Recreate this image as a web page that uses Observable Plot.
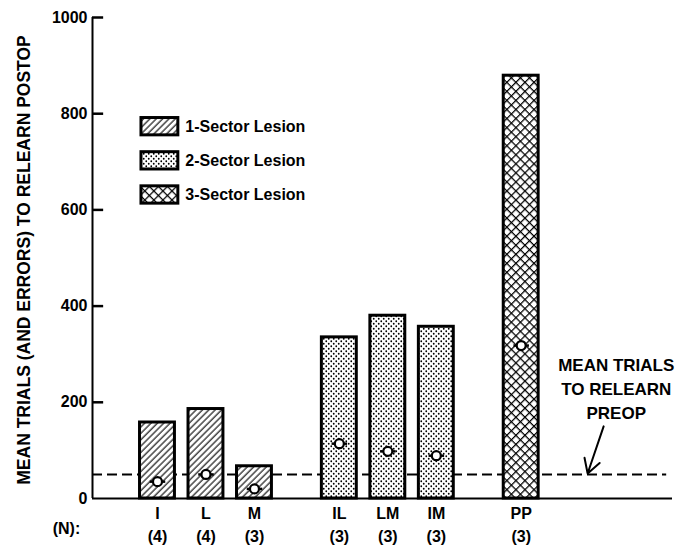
<!DOCTYPE html>
<html>
<head>
<meta charset="utf-8">
<script src="https://cdn.jsdelivr.net/npm/d3@7"></script>
<script src="https://cdn.jsdelivr.net/npm/@observablehq/plot@0.6"></script>
<style>
  html, body { margin: 0; padding: 0; background: #fff; }
  svg text { font-weight: bold; }
</style>
</head>
<body>
<div id="chart"></div>
<script>
// ---- data ----
const groups = ["I", "L", "M", "IL", "LM", "IM", "PP"];
const sectors = [1, 1, 1, 2, 2, 2, 3];
const trials = [158, 186, 67, 335, 380, 357, 879];
const errors = [35, 50, 20, 114, 98, 89, 318];
const counts = [4, 4, 3, 3, 3, 3, 3];
const preopMean = 50;
const yTicks = [0, 200, 400, 600, 800, 1000];
const legendLabels = ["1-Sector Lesion", "2-Sector Lesion", "3-Sector Lesion"];
const yLabel = "MEAN TRIALS (AND ERRORS) TO RELEARN POSTOP";
const noteLabel = "MEAN TRIALS\nTO RELEARN\nPREOP";

// slot position: one step per bar, extra gap between lesion-size groups
const groupGap = 0.75;
const data = groups.map((g, i) => ({
  group: g, sector: sectors[i], trials: trials[i], errors: errors[i], n: counts[i],
  pos: i + (sectors[i] - 1) * groupGap
}));
const half = 0.36;
const xMin = -1.34, xMax = 10.62;
const FS = 16;

const legend = legendLabels.map((label, i) => ({label, sector: i + 1, y: 773 - i * 71}));
const tickMarks = yTicks.filter(t => t > 0);

const chart = Plot.plot({
  width: 676,
  height: 547,
  marginLeft: 92,
  marginRight: 4,
  marginTop: 17,
  marginBottom: 49,
  style: {fontFamily: "'Liberation Sans', Arial, sans-serif", fontSize: FS + "px", background: "#fff", color: "#000"},
  x: {type: "linear", domain: [xMin, xMax], axis: null},
  y: {domain: [0, 1000], axis: null},
  marks: [
    // preop dashed line
    Plot.ruleY([preopMean], {x1: xMin, x2: 10.5, stroke: "black", strokeWidth: 2, strokeDasharray: "10,5"}),
    // bars
    Plot.rect(data, {
      x1: d => d.pos - half, x2: d => d.pos + half, y1: 0, y2: "trials",
      fill: d => `url(#pat${d.sector})`, stroke: "black", strokeWidth: 3
    }),
    // error markers
    Plot.link(data, {x1: d => d.pos - 0.16, x2: d => d.pos + 0.16, y1: "errors", y2: "errors", stroke: "black", strokeWidth: 2.5}),
    Plot.dot(data, {x: "pos", y: "errors", r: 4.5, fill: "white", stroke: "black", strokeWidth: 2.2}),
    // axes lines
    Plot.ruleY([0], {x1: xMin, x2: xMax, stroke: "black", strokeWidth: 2}),
    Plot.ruleX([xMin], {y1: 0, y2: 1000, stroke: "black", strokeWidth: 2}),
    // y tick marks, pointing inward
    Plot.ruleY(tickMarks, {y: d => d, x1: xMin, x2: xMin + 0.23, stroke: "black", strokeWidth: 2.5}),
    Plot.axisY(yTicks, {tickSize: 0, tickPadding: 5, label: null,
      tickFormat: d => String(d), fontSize: FS, fontWeight: "bold"}),
    Plot.axisX(data.map(d => d.pos), {
      tickSize: 0, tickPadding: 5, label: null, fontSize: FS, fontWeight: "bold", lineHeight: 1.4,
      tickFormat: p => { const d = data.find(e => e.pos === p); return `${d.group}\n(${d.n})`; }
    }),
    Plot.text(["(N):"], {frameAnchor: "bottom-left", textAnchor: "middle", dx: -26, dy: 35, fontSize: FS, fontWeight: "bold"}),
    Plot.text([yLabel], {frameAnchor: "left", textAnchor: "middle", rotate: -90, dx: -68, dy: 2, fontSize: 17.5, fontWeight: "bold"}),
    // legend
    Plot.rect(legend, {x1: -0.33, x2: 0.43, y1: d => d.y - 18, y2: d => d.y + 18,
      fill: d => `url(#pat${d.sector})`, stroke: "black", strokeWidth: 3}),
    Plot.text(legend, {x: 0.43, y: "y", text: "label", dx: 7, textAnchor: "start", fontSize: FS, fontWeight: "bold"}),
    // annotation
    Plot.text([noteLabel], {x: 9.46, y: 231, lineHeight: 1.42, textAnchor: "middle", fontSize: 17, fontWeight: "bold"}),
    Plot.arrow([0], {x1: 9.2, y1: 150, x2: 8.87, y2: 52, stroke: "black", strokeWidth: 2, headLength: 12, bend: 0})
  ]
});

// pattern definitions
const svg = d3.select(chart.tagName === "svg" ? chart : chart.querySelector("svg"));
const defs = svg.insert("defs", ":first-child");
const p1 = defs.append("pattern").attr("id", "pat1").attr("patternUnits", "userSpaceOnUse")
  .attr("width", 4.5).attr("height", 4.5).attr("patternTransform", "rotate(45)");
p1.append("rect").attr("width", 4.5).attr("height", 4.5).attr("fill", "white");
p1.append("line").attr("x1", 1).attr("y1", 0).attr("x2", 1).attr("y2", 4.5).attr("stroke", "black").attr("stroke-width", 1.1);
const p2 = defs.append("pattern").attr("id", "pat2").attr("patternUnits", "userSpaceOnUse")
  .attr("width", 5).attr("height", 5);
p2.append("rect").attr("width", 5).attr("height", 5).attr("fill", "white");
p2.append("circle").attr("cx", 1.25).attr("cy", 1.25).attr("r", 0.9).attr("fill", "black");
p2.append("circle").attr("cx", 3.75).attr("cy", 3.75).attr("r", 0.9).attr("fill", "black");
const p3 = defs.append("pattern").attr("id", "pat3").attr("patternUnits", "userSpaceOnUse")
  .attr("width", 6.4).attr("height", 6.4).attr("patternTransform", "rotate(45)");
p3.append("rect").attr("width", 6.4).attr("height", 6.4).attr("fill", "white");
p3.append("line").attr("x1", 0).attr("y1", 0.6).attr("x2", 6.4).attr("y2", 0.6).attr("stroke", "black").attr("stroke-width", 1.3);
p3.append("line").attr("x1", 0.6).attr("y1", 0).attr("x2", 0.6).attr("y2", 6.4).attr("stroke", "black").attr("stroke-width", 1.3);

document.getElementById("chart").appendChild(chart);
</script>
</body>
</html>
